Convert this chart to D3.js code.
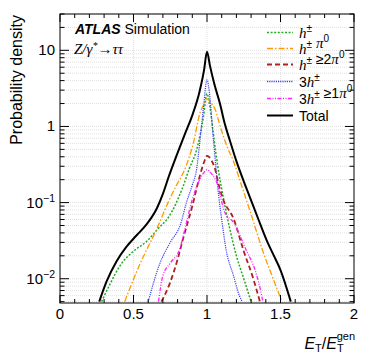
<!DOCTYPE html>
<html>
<head>
<meta charset="utf-8">
<script src="https://cdn.jsdelivr.net/npm/d3@7"></script>
<style>
  body { margin: 0; background: #fff; }
  svg text { font-family: "Liberation Sans", Arial, sans-serif; }
  .m { font-family: "Liberation Serif", "Times New Roman", serif; font-style: italic; }
</style>
</head>
<body>
<div id="chart"></div>
<script>
// values (x = ET/ET gen, y = probability density)
var totalX = [0.267, 0.317, 0.385, 0.45, 0.52, 0.59, 0.66, 0.7, 0.74, 0.8, 0.85, 0.9, 0.95, 0.98, 1.0, 1.02, 1.05, 1.088, 1.12, 1.156, 1.2, 1.25, 1.29, 1.35, 1.406, 1.45, 1.5, 1.57];
var totalY = [0.005, 0.0092, 0.017, 0.026, 0.037, 0.052, 0.085, 0.13, 0.22, 0.45, 0.8, 1.4, 2.9, 5.5, 9.6, 6.3, 3.6, 2.0, 1.1, 0.65, 0.35, 0.19, 0.12, 0.06, 0.032, 0.021, 0.013, 0.005];

var h1X = [0.283, 0.34, 0.41, 0.5, 0.59, 0.67, 0.74, 0.83, 0.88, 0.93, 0.975, 1.0, 1.02, 1.04, 1.06, 1.088, 1.1, 1.15, 1.2, 1.25, 1.3];
var h1Y = [0.005, 0.0085, 0.015, 0.023, 0.031, 0.046, 0.065, 0.15, 0.28, 0.5, 1.3, 2.7, 1.8, 0.9, 0.45, 0.2, 0.15, 0.05, 0.02, 0.01, 0.005];

var h1pi0X = [0.44, 0.54, 0.66, 0.74, 0.8, 0.84, 0.88, 0.907, 0.952, 0.975, 1.0, 1.03, 1.054, 1.09, 1.134, 1.18, 1.23, 1.3, 1.38, 1.45, 1.51];
var h1pi0Y = [0.005, 0.015, 0.046, 0.105, 0.18, 0.25, 0.4, 0.6, 1.5, 1.9, 2.3, 2.0, 1.7, 1.0, 0.56, 0.35, 0.18, 0.07, 0.023, 0.01, 0.005];

var h2pi0X = [0.69, 0.75, 0.8, 0.84, 0.9, 0.95, 0.98, 1.0, 1.03, 1.054, 1.08, 1.11, 1.18, 1.25, 1.315, 1.36];
var h2pi0Y = [0.005, 0.009, 0.018, 0.035, 0.09, 0.22, 0.34, 0.41, 0.36, 0.28, 0.17, 0.11, 0.062, 0.023, 0.01, 0.005];

var h3X = [0.6, 0.68, 0.75, 0.82, 0.86, 0.9, 0.93, 0.95, 0.975, 1.0, 1.02, 1.04, 1.06, 1.08, 1.1, 1.13, 1.18, 1.22, 1.24];
var h3Y = [0.005, 0.016, 0.03, 0.052, 0.1, 0.17, 0.28, 0.6, 1.7, 4.1, 2.4, 0.8, 0.3, 0.12, 0.06, 0.024, 0.011, 0.006, 0.005];

var h3pi0X = [0.67, 0.7, 0.75, 0.816, 0.85, 0.9, 0.95, 0.98, 1.0, 1.03, 1.066, 1.12, 1.18, 1.27, 1.327, 1.372, 1.38];
var h3pi0Y = [0.005, 0.011, 0.016, 0.025, 0.045, 0.11, 0.2, 0.25, 0.27, 0.24, 0.185, 0.075, 0.055, 0.023, 0.013, 0.006, 0.005];

var xTicks = [0, 0.5, 1, 1.5, 2];
var xTickLabels = ['0', '0.5', '1', '1.5', '2'];
var yTicks = [0.01, 0.1, 1, 10];
var yTickExp = ['-2', '-1', '', ''];

(function(){
  var W = 374, H = 361;
  var mL = 60, mR = 354, mT = 14, mB = 303;

  var svg = d3.select('#chart').append('svg')
    .attr('width', W)
    .attr('height', H);

  var x = d3.scaleLinear().domain([0, 2]).range([mL, mR]);
  var y = d3.scaleLog().domain([0.0048, 30]).range([mB, mT]);

  // grid
  var yMinor = [];
  [0.001, 0.01, 0.1, 1, 10].forEach(function(d){
    for (var k = 1; k < 10; k++) {
      var v = d * k;
      if (v >= y.domain()[0] && v <= y.domain()[1]) yMinor.push(v);
    }
  });
  var grid = svg.append('g');
  grid.selectAll('line.hg').data(yMinor).enter().append('line')
    .attr('x1', mL).attr('x2', mR)
    .attr('y1', function(d){ return y(d); })
    .attr('y2', function(d){ return y(d); })
    .attr('stroke', '#d8d8d8').attr('stroke-width', 0.8)
    .attr('stroke-dasharray', '1,1');
  grid.selectAll('line.vg').data([0.5, 1, 1.5]).enter().append('line')
    .attr('x1', function(d){ return x(d); })
    .attr('x2', function(d){ return x(d); })
    .attr('y1', mT).attr('y2', mB)
    .attr('stroke', '#d8d8d8').attr('stroke-width', 0.8)
    .attr('stroke-dasharray', '1,1');

  // curves
  svg.append('clipPath').attr('id', 'clip')
    .append('rect').attr('x', mL).attr('y', mT)
    .attr('width', mR - mL).attr('height', mB - mT);

  var line = d3.line()
    .x(function(d){ return x(d[0]); })
    .y(function(d){ return y(d[1]); })
    .curve(d3.curveMonotoneX);

  var series = [
    {xs: h1X,    ys: h1Y,    color: '#22aa22', dash: '2,1.6',       w: 1.5, label: 'h1'},
    {xs: h1pi0X, ys: h1pi0Y, color: '#ff9900', dash: '6,2,1.5,2',   w: 1.3, label: 'h1pi0'},
    {xs: h2pi0X, ys: h2pi0Y, color: '#aa2222', dash: '5,3',         w: 1.8, label: 'h2pi0'},
    {xs: h3X,    ys: h3Y,    color: '#3f3fff', dash: '1.2,1',       w: 1.2, label: 'h3'},
    {xs: h3pi0X, ys: h3pi0Y, color: '#ff22ff', dash: '4,1.5,1,1.5,1,1.5', w: 1.3, label: 'h3pi0'},
    {xs: totalX, ys: totalY, color: '#000000', dash: null,          w: 2,   label: 'total'}
  ];

  var plot = svg.append('g').attr('clip-path', 'url(#clip)');
  series.forEach(function(s){
    var pts = s.xs.map(function(v, i){ return [v, s.ys[i]]; });
    plot.append('path')
      .datum(pts)
      .attr('d', line)
      .attr('fill', 'none')
      .attr('stroke', s.color)
      .attr('stroke-width', s.w)
      .attr('stroke-dasharray', s.dash);
  });

  // frame
  svg.append('rect')
    .attr('x', mL).attr('y', mT)
    .attr('width', mR - mL).attr('height', mB - mT)
    .attr('fill', 'none').attr('stroke', '#000').attr('stroke-width', 1);

  // ticks
  var axisG = svg.append('g').attr('stroke', '#000').attr('stroke-width', 1);
  d3.range(0, 2.0001, 0.1).forEach(function(v){
    var major = Math.abs(v * 2 - Math.round(v * 2)) < 1e-6;
    var len = major ? 8 : 4;
    var px = x(v);
    axisG.append('line').attr('x1', px).attr('x2', px).attr('y1', mB).attr('y2', mB - len);
    axisG.append('line').attr('x1', px).attr('x2', px).attr('y1', mT).attr('y2', mT + len);
  });
  yMinor.forEach(function(v){
    var major = Math.abs(Math.log10(v) - Math.round(Math.log10(v))) < 1e-9;
    var len = major ? 9 : 4.5;
    var py = y(v);
    axisG.append('line').attr('x1', mL).attr('x2', mL + len).attr('y1', py).attr('y2', py);
    axisG.append('line').attr('x1', mR).attr('x2', mR - len).attr('y1', py).attr('y2', py);
  });

  // tick labels
  svg.selectAll('text.xl').data(xTicks).enter().append('text')
    .attr('x', function(d){ return x(d); })
    .attr('y', 319)
    .attr('text-anchor', 'middle')
    .attr('font-size', 15)
    .text(function(d, i){ return xTickLabels[i]; });

  yTicks.forEach(function(v, i){
    var t = svg.append('text')
      .attr('x', 55)
      .attr('y', y(v) + 5)
      .attr('text-anchor', 'end')
      .attr('font-size', 15);
    if (yTickExp[i] === '') {
      t.text(v === 1 ? '1' : '10');
    } else {
      t.append('tspan').text('10');
      t.append('tspan').attr('dy', -6).attr('font-size', 10.5).text('\u2212' + yTickExp[i].slice(1));
    }
  });

  // axis titles
  svg.append('text')
    .attr('transform', 'translate(22,15) rotate(-90)')
    .attr('text-anchor', 'end')
    .attr('font-size', 16)
    .text('Probability density');

  var xt = svg.append('text')
    .attr('x', 355).attr('y', 349)
    .attr('text-anchor', 'end')
    .attr('font-size', 16);
  xt.append('tspan').attr('font-style', 'italic').text('E');
  xt.append('tspan').attr('font-size', 11).attr('dy', 3).text('T');
  xt.append('tspan').attr('dy', -3).text('/');
  xt.append('tspan').attr('font-style', 'italic').text('E');
  xt.append('tspan').attr('font-size', 11).attr('dy', 3).text('T');
  xt.append('tspan').attr('font-size', 11).attr('dy', -12).attr('dx', -7).text('gen');

  // labels in the plot
  var atl = svg.append('text').attr('x', 75).attr('y', 34).attr('font-size', 14);
  atl.append('tspan').attr('font-weight', 'bold').attr('font-style', 'italic').text('ATLAS');
  atl.append('tspan').text(' Simulation');

  var proc = svg.append('text').attr('class', 'm').attr('x', 74).attr('y', 54).attr('font-size', 15);
  proc.append('tspan').text('Z/\u03b3');
  proc.append('tspan').attr('dy', -5).attr('font-size', 10).text('*');
  proc.append('tspan').attr('dy', 5).attr('font-style', 'normal').text('\u2192');
  proc.append('tspan').text('\u03c4\u03c4');

  // legend
  var legRows = [32, 48, 64, 81, 98, 115];
  var leg = svg.append('g');
  function hpm(el){
    el.append('tspan').attr('class', 'm').attr('font-size', 15).text('h');
    el.append('tspan').attr('font-size', 10).attr('dy', -6).text('\u00b1');
    el.append('tspan').attr('dy', 6).text('');
  }
  function pi0(el, pre){
    el.append('tspan').text(pre);
    el.append('tspan').attr('class', 'm').attr('font-size', 15).text('\u03c0');
    el.append('tspan').attr('font-size', 10).attr('dy', -6).text('0');
  }
  series.forEach(function(s, i){
    var ly = legRows[i] + 0.5;
    leg.append('line')
      .attr('x1', 267).attr('x2', 293)
      .attr('y1', ly).attr('y2', ly)
      .attr('stroke', s.color)
      .attr('stroke-width', s.label === 'h3' ? 1.5 : s.w)
      .attr('stroke-dasharray', s.dash);
    var t = leg.append('text').attr('x', 299).attr('y', ly + 5).attr('font-size', 14);
    if (s.label === 'h1') { hpm(t); }
    else if (s.label === 'h1pi0') { hpm(t); pi0(t, ' '); }
    else if (s.label === 'h2pi0') { hpm(t); pi0(t, ' \u22652'); }
    else if (s.label === 'h3') { t.append('tspan').text('3'); hpm(t); }
    else if (s.label === 'h3pi0') { t.append('tspan').text('3'); hpm(t); pi0(t, ' \u22651'); }
    else { t.text('Total'); }
  });
})();
</script>
</body>
</html>
